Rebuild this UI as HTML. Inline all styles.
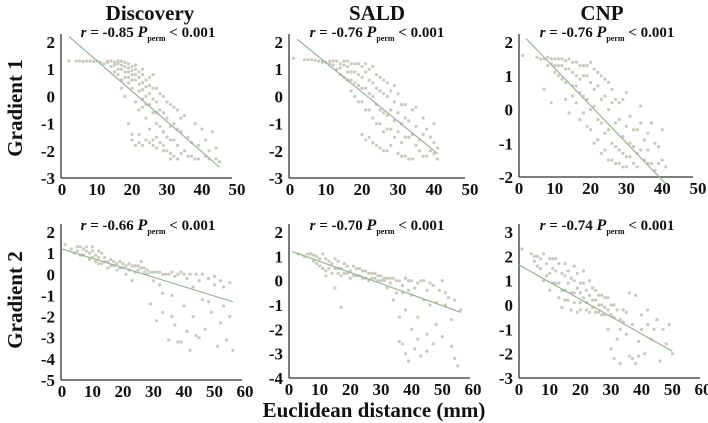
<!DOCTYPE html>
<html><head><meta charset="utf-8">
<style>
html,body{margin:0;padding:0;background:#fff;}
svg{display:block;font-family:"Liberation Serif",serif;}
.tk{font-size:17px;font-weight:bold;fill:#111;}
.ttl{font-size:21px;font-weight:bold;fill:#111;}
.ann{font-size:15px;font-weight:bold;fill:#111;}
</style></head>
<body>
<svg id="chart" width="708" height="423" viewBox="0 0 708 423">
<text class="ttl" x="150" y="20" text-anchor="middle">Discovery</text>
<text class="ttl" x="377" y="20" text-anchor="middle">SALD</text>
<text class="ttl" x="602" y="20" text-anchor="middle">CNP</text>
<text class="ttl" transform="translate(22,108) rotate(-90)" text-anchor="middle">Gradient 1</text>
<text class="ttl" transform="translate(22,300) rotate(-90)" text-anchor="middle">Gradient 2</text>
<text class="ttl" x="374" y="417" text-anchor="middle">Euclidean distance (mm)</text>
</svg>
<script>
const discG1 = [[2,1.3],[5,1.3],[7,1.3],[9,1.28],[11,1.25],[12,1.2],[13,1.3],[14,1.1],[15,1.25],[15,0.9],[16,1.2],[16,0.8],[17,1.0],[17,1.3],[18,0.7],[18,1.1],[19,0.5],[19,0.9],[19,1.2],[20,0.3],[20,0.8],[20,1.1],[21,0.6],[21,1.0],[21,-0.2],[22,0.2],[22,0.9],[22,-0.5],[23,0.5],[23,-0.1],[23,1.0],[24,0.0],[24,0.6],[24,-0.8],[25,-0.3],[25,0.4],[25,-1.2],[26,-0.6],[26,0.8],[26,-1.6],[27,-0.2],[27,-1.0],[27,0.3],[28,-1.7],[28,-0.5],[29,0.0],[29,-1.3],[30,-0.8],[30,-2.0],[31,-0.3],[31,-1.6],[32,-1.0],[32,-2.2],[33,-0.5],[33,-1.8],[34,-1.3],[35,-2.0],[35,-0.7],[36,-1.5],[37,-2.2],[38,-1.0],[38,-2.3],[39,-1.8],[40,-1.2],[41,-2.2],[42,-2.0],[43,-1.3],[44,-1.9],[45,-2.4],[20,-1.6],[21,-1.8],[22,-1.7],[23,-1.8],[24,-1.6],[19,-1.0],[17,0.3],[18,0.0],
 [4,1.3],[6,1.28],[8,1.3],[10,1.3],[13,1.25],[14,1.3],[15,1.15],[16,1.0],[16,1.3],[17,1.15],[17,0.6],[18,1.25],[18,0.9],[19,1.05],[19,0.7],[20,0.95],[20,0.6],[21,0.8],[21,1.15],[22,0.7],[22,0.45],[23,0.8],[23,0.25],[24,0.35],[24,-0.3],[25,0.1],[25,0.7],[26,-0.1],[26,0.3],[27,-0.6],[27,-1.5],[28,0.1],[28,-1.1],[29,-0.6],[29,-1.8],[30,-0.2],[30,-1.5],[31,-1.1],[31,-2.1],[32,-0.4],[32,-1.6],[33,-1.2],[34,-2.1],[34,-0.8],[36,-2.2],[37,-1.7],[39,-2.3],[41,-1.6],[42,-2.3],[44,-2.3],[25,-1.7],[26,-1.8],[27,-1.9],[29,-2.0],[31,-2.3],[33,-2.3],[20,-1.4],[22,-1.4],[23,-0.4]];
const saldG1 = [[1,1.4],[4,1.35],[6,1.35],[8,1.3],[9,1.3],[10,1.25],[11,1.2],[12,1.3],[13,1.0],[14,1.2],[14,0.8],[15,1.3],[16,0.6],[16,1.1],[17,0.9],[17,0.2],[18,1.2],[18,0.5],[19,-0.2],[19,0.8],[20,1.1],[20,0.3],[20,-1.4],[21,-0.5],[21,0.9],[22,-1.5],[22,0.1],[22,1.0],[23,-0.8],[23,0.5],[24,-1.8],[24,-0.3],[24,0.8],[25,-1.0],[25,0.2],[26,-2.0],[26,-0.6],[26,0.6],[27,-1.2],[27,0.0],[28,-1.8],[28,-0.5],[29,-0.9],[29,0.4],[30,-2.1],[30,-1.3],[31,-0.3],[31,-1.7],[32,-2.2],[32,-0.8],[33,-1.5],[34,-2.3],[34,-0.5],[35,-1.1],[36,-2.0],[36,-1.6],[37,-0.8],[38,-2.2],[39,-1.5],[40,-1.0],[40,-2.1],[41,-2.3],[41,-1.9],
 [5,1.35],[7,1.33],[9,1.25],[11,1.3],[12,1.15],[13,1.3],[14,1.05],[15,1.15],[15,0.7],[16,1.3],[16,0.9],[17,1.2],[17,0.6],[18,0.9],[18,0.0],[19,1.2],[19,0.4],[20,0.7],[20,-0.2],[21,1.2],[21,0.3],[21,-1.6],[22,0.6],[22,-0.5],[23,1.1],[23,0.0],[23,-1.7],[24,0.3],[24,-1.0],[25,0.7],[25,-0.5],[25,-1.9],[26,0.1],[26,-1.3],[27,0.5],[27,-0.7],[27,-2.0],[28,0.2],[28,-1.2],[29,-0.2],[29,-1.5],[30,-0.6],[30,0.1],[31,-1.0],[31,-2.2],[32,-0.3],[32,-1.5],[33,-0.9],[33,-2.3],[34,-1.4],[35,-1.8],[35,-0.4],[37,-1.4],[37,-2.2],[38,-1.2],[39,-2.0],[40,-1.7]];
const cnpG1 = [[1,1.6],[5,1.55],[7,1.5],[8,1.3],[9,1.5],[10,1.1],[10,1.5],[11,1.3],[12,0.9],[12,1.5],[13,1.2],[13,0.3],[14,1.5],[15,0.7],[15,1.1],[16,1.4],[16,0.2],[17,0.9],[17,-0.3],[18,1.3],[18,0.4],[19,-0.5],[19,1.0],[20,0.0],[20,1.4],[21,-1.0],[21,0.6],[22,-0.3],[22,1.1],[23,-1.3],[23,0.3],[24,-0.7],[24,0.9],[25,-1.5],[25,0.0],[26,-1.0],[26,0.6],[27,-1.6],[27,-0.4],[28,-1.2],[28,0.2],[29,-1.7],[29,-0.8],[30,-1.4],[30,0.5],[31,-1.0],[31,-0.2],[32,-1.6],[33,-0.6],[33,-1.3],[34,0.1],[35,-1.5],[35,-0.9],[36,-1.2],[37,-0.4],[37,-1.6],[38,-1.8],[39,-1.1],[40,-0.6],[40,-1.5],[41,-1.7],[7,0.6],[9,0.2],[14,-0.1],
 [6,1.5],[8,1.55],[9,1.35],[10,1.3],[11,1.5],[11,1.0],[12,1.3],[13,1.45],[13,0.8],[14,1.2],[15,1.4],[15,0.4],[16,1.0],[16,0.7],[17,1.3],[17,0.5],[18,1.0],[18,-0.1],[19,1.3],[19,0.3],[20,0.8],[20,-0.6],[21,1.2],[21,0.1],[22,0.7],[22,-0.9],[23,1.0],[23,-0.4],[24,0.4],[24,-1.2],[25,0.8],[25,-0.6],[26,0.2],[26,-1.5],[27,0.3],[27,-1.1],[28,-0.3],[28,-1.6],[29,0.3],[29,-1.3],[30,-0.5],[30,-1.7],[31,-1.4],[32,-0.6],[32,-1.1],[33,-1.7],[34,-1.2],[34,-0.4],[36,-1.6],[36,-0.7],[38,-1.0],[39,-1.6]];
const discG2 = [[1,1.4],[3,1.2],[4,1.0],[5,1.3],[6,0.9],[7,1.2],[8,1.3],[9,0.7],[10,1.1],[11,0.9],[12,0.5],[13,1.0],[14,0.6],[15,0.3],[16,0.7],[17,0.4],[18,0.2],[19,0.6],[20,0.3],[21,0.0],[22,0.5],[23,-0.3],[24,0.4],[25,0.2],[26,0.6],[27,0.1],[28,0.0],[29,-1.4],[30,0.1],[31,-2.2],[32,-0.5],[33,-1.8],[34,0.0],[35,-3.1],[36,-1.0],[37,-2.4],[38,0.0],[39,-3.2],[40,-1.5],[41,-0.2],[42,-3.6],[43,-2.0],[44,0.0],[45,-3.0],[46,-1.2],[47,-2.6],[48,-0.2],[49,-1.8],[50,-0.5],[51,-3.4],[52,-2.3],[53,-0.6],[54,-3.1],[55,-2.0],[56,-3.6],[55,-0.4],[30,-0.3],[33,-0.9],[36,0.1],[40,0.0],
 [5,1.1],[6,1.3],[7,0.9],[8,1.1],[9,1.0],[10,0.8],[10,1.3],[11,0.6],[12,0.8],[12,1.1],[13,0.5],[14,0.8],[15,0.6],[16,0.4],[17,0.6],[18,0.5],[19,0.3],[20,0.5],[21,0.4],[22,0.2],[23,0.4],[24,0.1],[25,0.4],[26,0.3],[27,0.3],[28,0.2],[29,0.1],[31,0.1],[32,0.1],[33,0.0],[35,0.0],[37,-0.1],[39,0.1],[42,0.0],[43,-0.6],[45,-0.3],[46,0.0],[48,-1.3],[50,-0.1],[52,-0.3],[53,-1.5],[36,-2.0],[38,-3.2],[41,-2.7],[44,-2.9]];
const saldG2 = [[3,1.1],[5,1.0],[7,1.1],[8,0.8],[9,1.0],[10,0.6],[11,1.1],[12,0.4],[13,0.8],[14,0.3],[15,0.9],[15,-0.3],[16,0.5],[17,0.2],[17,-1.1],[18,0.7],[19,0.3],[20,0.1],[21,0.6],[22,0.2],[23,0.5],[24,0.1],[25,0.4],[26,0.0],[27,0.3],[28,0.1],[29,0.2],[30,0.0],[31,0.1],[32,-0.3],[33,0.1],[34,-0.8],[35,0.0],[36,-1.5],[36,-2.5],[37,-0.5],[38,-3.0],[38,-1.2],[39,0.0],[40,-2.0],[40,-0.6],[41,-2.8],[42,-1.5],[43,-3.1],[43,0.0],[44,-0.8],[45,-2.2],[46,-1.0],[46,-0.1],[47,-2.6],[48,-1.8],[49,-0.4],[50,-2.3],[51,-1.0],[52,-0.7],[53,-2.7],[54,-0.8],[55,-3.5],[54,-3.2],[56,-1.2],
 [6,1.1],[8,1.05],[9,0.7],[10,0.9],[11,0.5],[12,0.9],[12,0.2],[13,0.5],[14,0.7],[15,0.5],[16,0.3],[16,0.8],[17,0.5],[18,0.3],[19,0.6],[20,0.4],[21,0.2],[22,0.5],[23,0.2],[24,0.4],[25,0.1],[26,0.3],[27,0.1],[28,0.3],[29,0.0],[30,0.2],[31,0.0],[32,0.1],[33,-0.1],[34,0.1],[35,-0.5],[36,0.0],[37,-0.2],[38,0.1],[39,-0.4],[40,0.0],[41,-0.3],[42,-0.1],[44,0.0],[45,-0.4],[47,-0.2],[48,-0.9],[50,0.0],[51,-0.5],[53,-1.6],[37,-2.6],[39,-3.3],[42,-2.4],[45,-2.9]];
const cnpG2 = [[1,2.3],[4,2.1],[5,1.8],[6,2.0],[7,1.5],[8,2.1],[9,1.2],[10,1.9],[10,0.6],[11,1.5],[12,0.9],[12,1.9],[13,0.3],[14,1.3],[14,-0.1],[15,1.7],[15,0.6],[16,0.2],[17,1.1],[17,-0.2],[18,1.6],[18,0.5],[19,-0.3],[20,0.9],[20,0.1],[21,1.4],[22,-0.2],[22,0.6],[23,1.0],[24,0.2],[25,-0.3],[25,0.6],[26,0.0],[27,-0.4],[27,0.4],[28,-0.1],[29,-1.0],[29,0.3],[30,-1.8],[30,-0.4],[31,-2.2],[31,0.0],[32,-1.4],[33,-0.6],[33,-2.4],[34,-0.2],[35,-1.2],[36,-2.1],[36,0.5],[37,-0.8],[38,-2.4],[39,-1.5],[40,-0.4],[41,-2.0],[42,-0.8],[43,-1.4],[45,-0.6],[46,-2.3],[47,-1.0],[48,-1.6],[50,-2.0],[49,-0.8],
 [5,2.0],[6,1.6],[7,1.9],[8,1.0],[9,1.7],[10,1.3],[11,0.9],[11,1.9],[12,1.4],[13,0.9],[13,1.7],[14,0.6],[15,0.2],[15,1.2],[16,0.9],[16,1.4],[17,0.5],[18,0.1],[18,1.0],[19,0.7],[19,1.3],[20,-0.2],[20,0.5],[21,0.3],[21,0.9],[22,0.1],[23,-0.3],[23,0.4],[24,0.7],[24,-0.1],[25,0.2],[26,-0.3],[26,0.4],[27,0.0],[28,-0.4],[28,0.3],[29,-0.2],[30,0.0],[31,-0.5],[32,-0.2],[33,-1.0],[34,-0.7],[35,-0.3],[37,-2.2],[38,0.4],[39,-2.1],[40,-1.0],[42,-0.2],[44,-1.0]];
const fitLines = [[[2,2.2],[45,-2.6]],[[2,2.1],[41,-2.1]],[[2,2.1],[41,-2.2]],[[0,1.2],[56,-1.3]],[[1,1.2],[56,-1.3]],[[0,1.65],[50,-1.9]]];
const rValues = ["-0.85","-0.76","-0.76","-0.66","-0.70","-0.74"];
const xTicks1 = [0,10,20,30,40,50];
const xTicks2 = [0,10,20,30,40,50,60];
const yTicksA = [2,1,0,-1,-2,-3];
const yTicksB = [2,1,0,-1,-2];
const yTicksC = [2,1,0,-1,-2,-3,-4,-5];
const yTicksD = [2,1,0,-1,-2,-3,-4];
const yTicksE = [3,2,1,0,-1,-2,-3];

const NS="http://www.w3.org/2000/svg";
const svg=document.getElementById('chart');
function mk(tag,attrs,parent){const e=document.createElementNS(NS,tag);for(const k in attrs)e.setAttribute(k,attrs[k]);(parent||svg).appendChild(e);return e;}

const panels=[
 {name:'discovery-gradient-1',pts:discG1,x0:62,x1:237,xmax:50,xt:xTicks1,yt:yTicksA,ytop:42,ybot:178,ymax:2,ymin:-3,ann:148,ay:37,ax:61,xend:232},
 {name:'sald-gradient-1',pts:saldG1,x0:290,x1:470,xmax:50,xt:xTicks1,yt:yTicksA,ytop:42,ybot:178,ymax:2,ymin:-3,ann:377,ay:37,ax:289,xend:465},
 {name:'cnp-gradient-1',pts:cnpG1,x0:519,x1:698,xmax:50,xt:xTicks1,yt:yTicksB,ytop:42,ybot:177,ymax:2,ymin:-2,ann:607,ay:37,ax:519,xend:693},
 {name:'discovery-gradient-2',pts:discG2,x0:62,x1:245,xmax:60,xt:xTicks2,yt:yTicksC,ytop:232,ybot:380,ymax:2,ymin:-5,ann:148,ay:230,ax:61,xend:242},
 {name:'sald-gradient-2',pts:saldG2,x0:289,x1:473,xmax:60,xt:xTicks2,yt:yTicksD,ytop:232,ybot:378,ymax:2,ymin:-4,ann:377,ay:230,ax:289,xend:470},
 {name:'cnp-gradient-2',pts:cnpG2,x0:519,x1:703,xmax:60,xt:xTicks2,yt:yTicksE,ytop:232,ybot:378,ymax:3,ymin:-3,ann:607,ay:230,ax:519,xend:700}
];

panels.forEach((p,i)=>{
  const xs=v=>p.x0+(p.x1-p.x0)*v/p.xmax;
  const ys=v=>p.ytop+(p.ybot-p.ytop)*(p.ymax-v)/(p.ymax-p.ymin);
  const g=mk('g',{});
  
  
  const yax=mk('line',{x1:p.ax,y1:p.ytop-8,x2:p.ax,y2:p.ybot,stroke:'#333','stroke-width':1.3},g);
  
  
  const xax=mk('line',{x1:p.ax,y1:p.ybot,x2:p.xend,y2:p.ybot,stroke:'#333','stroke-width':1.3},g);
  
  
  p.yt.forEach(v=>{
    const t=mk('text',{x:p.ax-6,y:ys(v)+6,'text-anchor':'end',class:'tk'},g);
    t.textContent=v;
    
    
  });
  p.xt.forEach(v=>{
    const t=mk('text',{x:xs(v),y:p.ybot+17,'text-anchor':'middle',class:'tk'},g);
    t.textContent=v;
    
    
  });
  p.pts.forEach(d=>{
    const c=mk('circle',{cx:xs(d[0]),cy:ys(d[1]),r:1.6,fill:'#c9c9bd'},g);
    
    
  });
  const f=fitLines[i];
  const l=mk('line',{x1:xs(f[0][0]),y1:ys(f[0][1]),x2:xs(f[1][0]),y2:ys(f[1][1]),stroke:'#8fb08c','stroke-width':1.1},g);
  
  
  const a=mk('text',{x:p.ann,y:p.ay,'text-anchor':'middle',class:'ann'},g);
  a.innerHTML='<tspan font-style="italic">r</tspan> = '+rValues[i]+'  <tspan font-style="italic" font-size="16">P</tspan><tspan font-size="8" dy="4">perm</tspan><tspan dy="-4"> &lt; 0.001</tspan>';
  
  
});
</script>
</body></html>
